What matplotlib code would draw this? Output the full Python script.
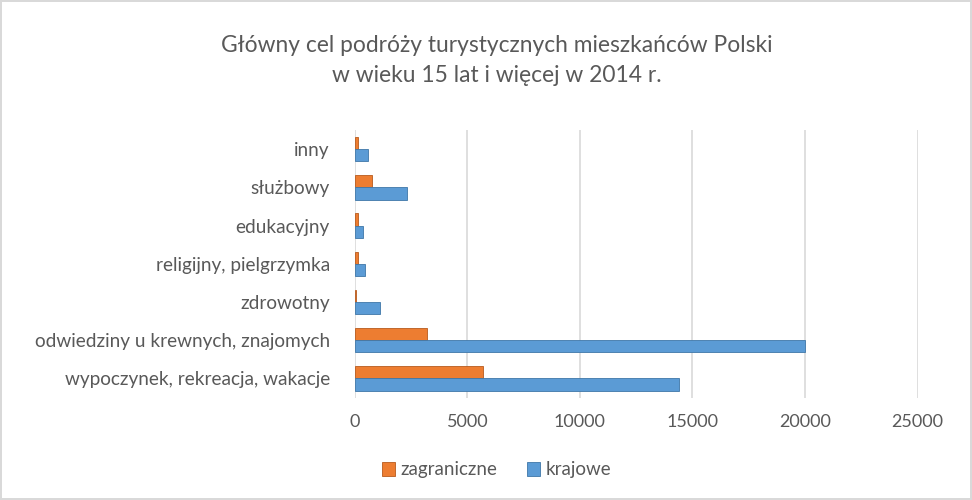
import numpy as np
import matplotlib.pyplot as plt

# Data
categories = ['wypoczynek, rekreacja, wakacje', 'odwiedziny u krewnych, znajomych',
              'zdrowotny', 'religijny, pielgrzymka', 'edukacyjny', 'służbowy', 'inny']
zagraniczne = [5700, 3200, 50, 150, 150, 750, 150]
krajowe = [14400, 20000, 1100, 450, 350, 2300, 600]
series_names = ['zagraniczne', 'krajowe']
ticks = [0, 5000, 10000, 15000, 20000, 25000]

orange = '#ED7D31'
blue = '#5B9BD5'
text_col = '#595959'

plt.rcParams['font.family'] = ['Lato', 'DejaVu Sans']

fig = plt.figure(figsize=(9.72, 5.0), dpi=100)
fig.patch.set_edgecolor('#d9d9d9')
fig.patch.set_linewidth(1.5)
ax = fig.add_axes([0.365, 0.205, 0.579, 0.535])

y = np.arange(len(categories))
h = 0.32
ax.barh(y + h / 2, zagraniczne, height=h, color=orange, edgecolor='#b85a1c',
        linewidth=0.6, label=series_names[0], zorder=3)
ax.barh(y - h / 2, krajowe, height=h, color=blue, edgecolor='#3f77a8',
        linewidth=0.6, label=series_names[1], zorder=3)

ax.set_xlim(0, 25000)
ax.set_ylim(-0.5, len(categories) - 0.5)
ax.set_xticks(ticks)
ax.set_xticklabels([str(t) for t in ticks])
ax.set_yticks(y)
ax.set_yticklabels(categories)
ax.grid(axis='x', color='#d9d9d9', linewidth=1.2, zorder=0)
for s in ax.spines.values():
    s.set_visible(False)
ax.tick_params(axis='x', length=0, pad=12, labelsize=13, labelcolor=text_col)
ax.tick_params(axis='y', length=0, pad=18, labelsize=13.7, labelcolor=text_col)

fig.text(0.511, 0.91, 'Główny cel podróży turystycznych mieszkańców Polski',
         ha='center', va='center', fontsize=16.4, color=text_col)
fig.text(0.511, 0.85, 'w wieku 15 lat i więcej w 2014 r.',
         ha='center', va='center', fontsize=16.4, color=text_col)

fig.legend(loc='center', bbox_to_anchor=(0.511, 0.06), ncol=2, frameon=False,
           fontsize=13.5, labelcolor=text_col, handlelength=0.7, handleheight=0.7,
           handletextpad=0.3, columnspacing=1.6)

fig.savefig('out.png', dpi=100)
